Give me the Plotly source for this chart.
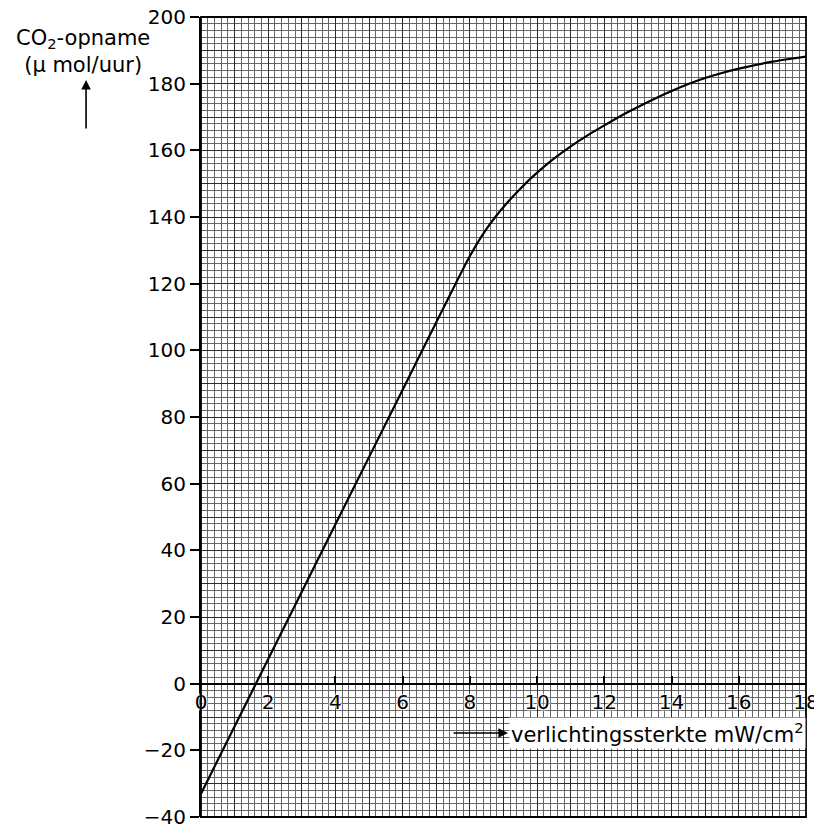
import plotly.graph_objects as go

# ---- data ----
light_x = [0, 2, 4, 6, 7.5, 8, 8.5, 9, 9.5, 10, 10.5, 11, 11.5, 12, 12.5, 13, 13.5,
           14, 14.5, 15, 15.5, 16, 16.5, 17, 17.5, 18]
co2_uptake = [-33, 7.4, 47.8, 88.2, 118.5, 128.3, 136.5, 143, 148.5, 153.3, 157.5, 161.2,
              164.5, 167.5, 170.4, 173.0, 175.5, 177.8, 179.9, 181.7, 183.2, 184.5,
              185.6, 186.6, 187.4, 188.1]

x_ticks = [0, 2, 4, 6, 8, 10, 12, 14, 16, 18]
y_ticks = [-40, -20, 0, 20, 40, 60, 80, 100, 120, 140, 160, 180, 200]
X_MIN, X_MAX = 0, 18
Y_MIN, Y_MAX = -40, 200

FONT = "DejaVu Sans"
halo = "white 0px 0px 2px, white 0px 0px 2px, white 0px 0px 3px, white 0px 0px 3px"

fig = go.Figure()

# hidden trace to activate the overlay axes used for the 5 mm grid
fig.add_trace(go.Scatter(x=[X_MIN, X_MAX], y=[Y_MIN, Y_MAX], xaxis="x2", yaxis="y2",
                         mode="markers", marker=dict(opacity=0), hoverinfo="skip",
                         showlegend=False))

fig.add_trace(go.Scatter(x=light_x, y=co2_uptake, mode="lines",
                         line=dict(color="black", width=2.2, shape="spline", smoothing=0.5),
                         showlegend=False))

zero_pos = (0 - Y_MIN) / (Y_MAX - Y_MIN)

fig.update_layout(
    width=822, height=830,
    margin=dict(l=193, r=24, t=9, b=21, autoexpand=False),
    paper_bgcolor="white", plot_bgcolor="white",
    font=dict(family=FONT, color="black"),
    xaxis=dict(
        range=[X_MIN, X_MAX], anchor="free", position=zero_pos, automargin=False,
        tickvals=x_ticks, ticks="inside", ticklen=7, tickwidth=1.5, tickcolor="black",
        showline=True, linecolor="black", linewidth=2, ticklabeloverflow="allow",
        tickfont=dict(family=FONT, size=20, color="black", shadow=halo),
        showgrid=True, gridcolor="#1a1a1a", gridwidth=1.4,
        minor=dict(dtick=0.2, showgrid=True, gridcolor="#666666", gridwidth=0.9, ticks=""),
        zeroline=False, fixedrange=True,
    ),
    yaxis=dict(
        range=[Y_MIN, Y_MAX], tickvals=y_ticks, ticks="outside", ticklen=9, automargin=False,
        tickwidth=1.5, tickcolor="black", ticklabeloverflow="allow",
        showline=True, linecolor="black", linewidth=2,
        tickfont=dict(family=FONT, size=20, color="black"),
        showgrid=True, gridcolor="#1a1a1a", gridwidth=1.4,
        minor=dict(dtick=2, showgrid=True, gridcolor="#666666", gridwidth=0.9, ticks=""),
        zeroline=True, zerolinecolor="black", zerolinewidth=2,
        fixedrange=True,
    ),
    xaxis2=dict(range=[X_MIN, X_MAX], overlaying="x", anchor="y2", dtick=1, automargin=False,
                showticklabels=False, ticks="", showgrid=True, gridcolor="#2a2a2a",
                gridwidth=1.2, zeroline=False, showline=False),
    yaxis2=dict(range=[Y_MIN, Y_MAX], overlaying="y", anchor="x2", dtick=10, automargin=False,
                showticklabels=False, ticks="", showgrid=True, gridcolor="#2a2a2a",
                gridwidth=1.2, zeroline=False, showline=False),
    shapes=[dict(type="rect", xref="paper", yref="paper", x0=0, x1=1, y0=0, y1=1,
                 line=dict(color="black", width=1.8), layer="above")],
)

# axis titles
fig.add_annotation(xref="paper", yref="paper", x=-0.195, y=(817 - 52) / 800,
                   xanchor="center", yanchor="middle", showarrow=False,
                   text="CO<sub>2</sub>-opname<br>(µ mol/uur)",
                   font=dict(family=FONT, size=21, color="black"))
fig.add_annotation(xref="paper", yref="paper", x=-0.190, y=(817 - 80) / 800,
                   ax=0, ay=50, text="", showarrow=True, arrowhead=2, arrowsize=1.2,
                   arrowwidth=1.6, arrowcolor="black")
fig.add_annotation(xref="paper", yref="paper", x=(508 - 201) / 605, y=(817 - 733) / 800,
                   ax=-56, ay=0, text="", showarrow=True, arrowhead=2, arrowsize=1.2,
                   arrowwidth=1.6, arrowcolor="black")
fig.add_annotation(xref="paper", yref="paper", x=1.0, y=(817 - 733) / 800,
                   xanchor="right", yanchor="middle", showarrow=False,
                   text="verlichtingssterkte mW/cm<sup>2</sup>", bgcolor="white", borderpad=1,
                   font=dict(family=FONT, size=21, color="black"))

fig.write_html("out.html")
